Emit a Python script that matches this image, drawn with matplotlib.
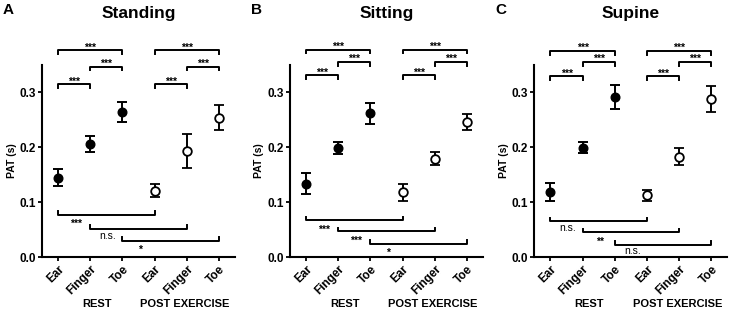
import numpy as np
import matplotlib
matplotlib.use('Agg')
import matplotlib.pyplot as plt
from matplotlib.transforms import blended_transform_factory

plt.rcParams['font.family'] = ['Liberation Sans', 'DejaVu Sans']

# categories
sites = ['Ear', 'Finger', 'Toe', 'Ear', 'Finger', 'Toe']
groups = ['REST', 'POST EXERCISE']

# PAT means and error (s)
standing_mean = [0.145, 0.206, 0.264, 0.121, 0.194, 0.254]
standing_err = [0.016, 0.015, 0.018, 0.012, 0.031, 0.023]
sitting_mean = [0.134, 0.198, 0.262, 0.118, 0.179, 0.246]
sitting_err = [0.019, 0.011, 0.019, 0.015, 0.012, 0.014]
supine_mean = [0.119, 0.199, 0.291, 0.113, 0.183, 0.288]
supine_err = [0.016, 0.010, 0.022, 0.010, 0.015, 0.023]

# significance: pairs within a condition (above) and rest vs post (below)
top_pairs = [(0, 1), (1, 2), (0, 2), (3, 4), (4, 5), (3, 5)]
top_labels = ['***'] * 6
bottom_pairs = [(0, 3), (1, 4), (2, 5)]
standing_bottom = ['***', 'n.s.', '*']
sitting_bottom = ['***', '***', '*']
supine_bottom = ['n.s.', '**', 'n.s.']

panels = [
    ('A', 'Standing', standing_mean, standing_err, standing_bottom,
     [0.315, 0.347, 0.377], [0.077, 0.051, 0.030], 0.0575),
    ('B', 'Sitting', sitting_mean, sitting_err, sitting_bottom,
     [0.332, 0.356, 0.378], [0.067, 0.047, 0.024], 0.3967),
    ('C', 'Supine', supine_mean, supine_err, supine_bottom,
     [0.330, 0.356, 0.376], [0.065, 0.045, 0.023], 0.731),
]

fig = plt.figure(figsize=(7.31, 3.14), dpi=100)

for letter, title, mean, err, bot_labels, top_h, bot_h, left in panels:
    ax = fig.add_axes([left, 0.181, 0.264, 0.612])
    x = np.arange(len(sites))
    # rest: filled, post exercise: open
    ax.errorbar(x[:3], mean[:3], yerr=err[:3], fmt='o', color='black',
                mfc='black', mec='black', ms=6.2, capsize=3.6, elinewidth=1.4,
                capthick=1.4, zorder=3)
    ax.errorbar(x[3:], mean[3:], yerr=err[3:], fmt='o', color='black',
                mfc='white', mec='black', mew=1.3, ms=6.2, capsize=3.6,
                elinewidth=1.4, capthick=1.4, zorder=3)

    ax.set_xlim(-0.5, 5.5)
    ax.set_ylim(0, 0.35)
    ax.set_yticks([0.0, 0.1, 0.2, 0.3])
    ax.set_yticklabels(['0.0', '0.1', '0.2', '0.3'], fontsize=8.5, fontweight='bold')
    ax.set_xticks(x)
    ax.set_xticklabels(sites, rotation=45, ha='right', rotation_mode='anchor',
                       fontsize=8.5, fontweight='bold')
    ax.set_ylabel('PAT (s)', fontsize=7.5, fontweight='bold', labelpad=2)
    for s in ['top', 'right']:
        ax.spines[s].set_visible(False)
    for s in ['left', 'bottom']:
        ax.spines[s].set_linewidth(1.5)
    ax.tick_params(width=1.3, length=3, pad=1.5)

    # brackets above
    heights = top_h + top_h
    for (a, b), h, lab in zip(top_pairs, heights, top_labels):
        ax.plot([a, a, b, b], [h - 0.007, h, h, h - 0.007], color='black',
                lw=1.4, clip_on=False)
        ax.text((a + b) / 2, h - 0.001, lab, ha='center', va='baseline',
                fontsize=7.5, fontweight='bold')

    # brackets below
    for (a, b), h, lab in zip(bottom_pairs, bot_h, bot_labels):
        ax.plot([a, a, b, b], [h + 0.007, h, h, h + 0.007], color='black',
                lw=1.4, clip_on=False)
        if lab == 'n.s.':
            ax.text(a + 0.55, h - 0.018, lab, ha='center', va='baseline',
                    fontsize=7.5)
        else:
            ax.text(a + 0.55, h - 0.022, lab, ha='center', va='baseline',
                    fontsize=7.5, fontweight='bold')

    # group labels
    tr = ax.get_xaxis_transform()
    ax.text(1.2, -0.245, groups[0], transform=tr, ha='center', va='center',
            fontsize=8, fontweight='bold')
    ax.text(3.95, -0.245, groups[1], transform=tr, ha='center', va='center',
            fontsize=8, fontweight='bold')

    # title and panel letter
    ax.text(2.5, 0.958, title,
            transform=blended_transform_factory(ax.transData, fig.transFigure),
            ha='center', va='center', fontsize=12.5, fontweight='bold')
    fig.text(left - 0.046, 0.968, letter, ha='center', va='center',
             fontsize=11, fontweight='bold')

fig.savefig('out.png', dpi=100)
